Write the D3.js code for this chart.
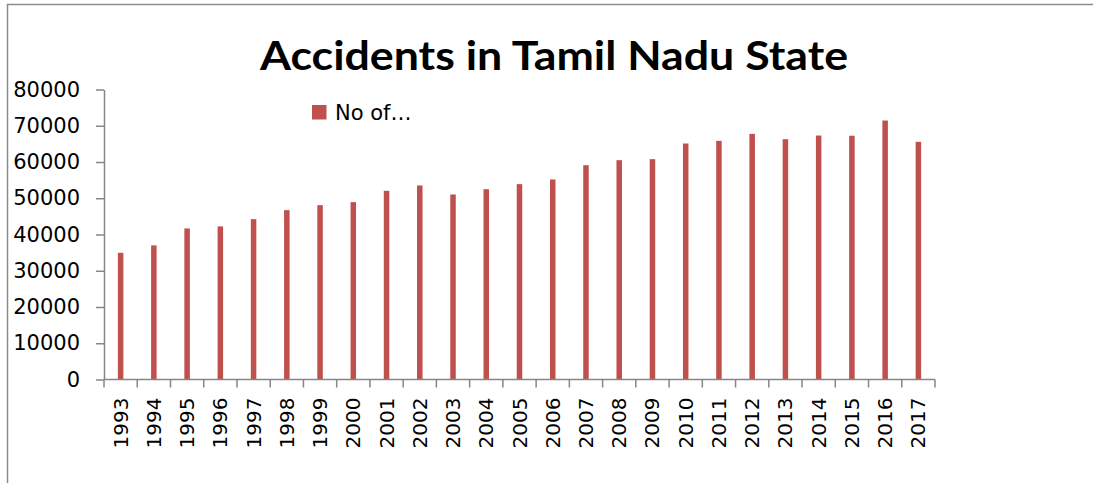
<!DOCTYPE html>
<html>
<head>
<meta charset="utf-8">
<script src="https://cdn.jsdelivr.net/npm/d3@7"></script>
<style>
  html, body { margin: 0; padding: 0; background: #fff; }
  svg { display: block; }
</style>
</head>
<body>
<div id="chart"></div>
<script>
// Chart data
var years = ['1993','1994','1995','1996','1997','1998','1999','2000','2001','2002',
             '2003','2004','2005','2006','2007','2008','2009','2010','2011','2012',
             '2013','2014','2015','2016','2017'];
var accidents = [34950, 37000, 41670, 42230, 44240, 46720, 48100, 48930, 52050, 53520,
                 51040, 52500, 53890, 55180, 59120, 60500, 60780, 65100, 65830, 67760,
                 66290, 67300, 67250, 71440, 65560];
var yTicks = [0, 10000, 20000, 30000, 40000, 50000, 60000, 70000, 80000];
var seriesName = 'No of…';
var title = 'Accidents in Tamil Nadu State';

var W = 1093, H = 483;
var margin = { left: 104, right: 158, top: 89.5, bottom: 103.5 };

var svg = d3.select('#chart')
  .append('svg')
  .attr('width', W)
  .attr('height', H);

// Outer chart frame (only left and top edges are visible)
svg.append('rect')
  .attr('x', 7.5).attr('y', 4.5)
  .attr('width', W + 10).attr('height', H + 10)
  .attr('fill', 'none')
  .attr('stroke', '#8c8c8c')
  .attr('stroke-width', 1.5);

var x = d3.scaleBand()
  .domain(years)
  .range([margin.left, W - margin.right])
  .padding(0);

var y = d3.scaleLinear()
  .domain([0, 80000])
  .range([H - margin.bottom, margin.top]);

// Bars
svg.selectAll('.bar')
  .data(accidents)
  .enter()
  .append('rect')
  .attr('class', 'bar')
  .attr('x', function(d, i){ return x(years[i]) + x.bandwidth() / 2 - 2.75; })
  .attr('width', 5.5)
  .attr('y', function(d){ return y(d); })
  .attr('height', function(d){ return y(0) - y(d); })
  .attr('fill', '#c0504d');

// Y axis
var yAxis = svg.append('g')
  .attr('transform', 'translate(' + margin.left + ',0)')
  .call(d3.axisLeft(y).tickValues(yTicks).tickSize(8).tickSizeOuter(0).tickPadding(16)
        .tickFormat(d3.format('d')));
yAxis.selectAll('path, line').attr('stroke', '#868686').attr('stroke-width', 1.5);
yAxis.selectAll('text')
  .attr('font-family', 'DejaVu Sans')
  .attr('font-size', 21)
  .attr('fill', '#000');

// X axis line and boundary ticks
var xAxis = svg.append('g').attr('class', 'x-axis');
xAxis.append('line')
  .attr('x1', margin.left).attr('x2', W - margin.right)
  .attr('y1', y(0)).attr('y2', y(0))
  .attr('stroke', '#868686').attr('stroke-width', 1.5);
var bounds = years.map(function(d){ return x(d); }).concat([x(years[years.length - 1]) + x.bandwidth()]);
xAxis.selectAll('.xtick')
  .data(bounds)
  .enter()
  .append('line')
  .attr('x1', function(d){ return d; }).attr('x2', function(d){ return d; })
  .attr('y1', y(0)).attr('y2', y(0) + 8)
  .attr('stroke', '#868686').attr('stroke-width', 1.5);

// Rotated year labels
xAxis.selectAll('.xlabel')
  .data(years)
  .enter()
  .append('text')
  .attr('transform', function(d){
    return 'translate(' + (x(d) + x.bandwidth() / 2 + 7) + ',' + (y(0) + 18) + ') rotate(-90)';
  })
  .attr('text-anchor', 'end')
  .attr('font-family', 'DejaVu Sans')
  .attr('font-size', 20)
  .attr('fill', '#000')
  .text(function(d){ return d; });

// Title
svg.append('text')
  .attr('x', 554).attr('y', 70)
  .attr('text-anchor', 'middle')
  .attr('font-family', 'Lato')
  .attr('font-weight', 'bold')
  .attr('font-size', 41)
  .attr('textLength', 588)
  .attr('lengthAdjust', 'spacingAndGlyphs')
  .attr('fill', '#000')
  .text(title);

// Legend
var legend = svg.append('g').attr('transform', 'translate(312,105)');
legend.append('rect')
  .attr('width', 14.5).attr('height', 14.5)
  .attr('fill', '#c0504d');
legend.append('text')
  .attr('x', 23).attr('y', 15)
  .attr('font-family', 'DejaVu Sans')
  .attr('font-size', 21)
  .attr('fill', '#000')
  .text(seriesName);
</script>
</body>
</html>
